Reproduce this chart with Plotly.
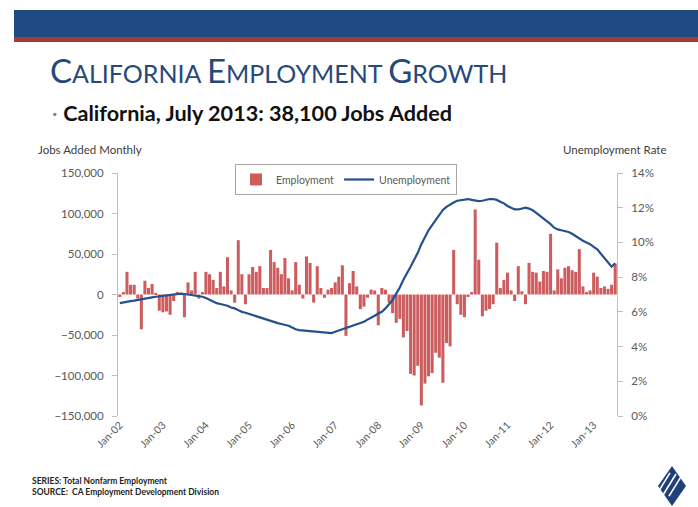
import plotly.graph_objects as go

# ---------------- data ----------------
tick_labels = ["Jan-02", "Jan-03", "Jan-04", "Jan-05", "Jan-06", "Jan-07",
               "Jan-08", "Jan-09", "Jan-10", "Jan-11", "Jan-12", "Jan-13"]

# monthly jobs added, Jan 2002 .. Jul 2013 (thousands)
jobs_k = [
    -3, 3, 28, 12, 12, -5, -43, 17, 8, 13, 2, -20,            # 2002
    -22, -21, -25, -8, 3, 2, -28, 15, 5, 28, -5, 3,          # 2003
    28, 25, 18, 8, 28, 10, 46, 5, -10, 67, 25, -12,          # 2004
    25, 34, 28, 35, 8, 8, 55, 40, 33, 25, 45, 20,            # 2005
    5, 40, 12, -5, 47, 39, -10, 35, 8, -4, 6, 8,             # 2006
    15, 22, 36, -51, 14, 29, 10, -18, -15, -4, 6, 5,         # 2007
    -38, 8, 6, -10, -23, -35, -30, -53, -45, -98, -100, -88, # 2008
    -137, -110, -101, -97, -72, -78, -109, -60, -64, 55, -12, -25,  # 2009
    -28, -3, 3, 105, 43, -27, -20, -18, -12, 64, 8, 18,      # 2010
    27, 5, -8, 35, 4, -12, 39, 28, 27, 16, 29, 28,           # 2011
    75, 5, 31, 20, 33, 35, 30, 28, 56, 10, 3, 5,             # 2012
    27, 22, 8, 10, 7, 12, 38.1,                              # 2013
]

# unemployment rate (%), Jan 2002 .. Jul 2013
unemp = [
    6.5, 6.55, 6.6, 6.62, 6.65, 6.68, 6.7, 6.75, 6.8, 6.83, 6.87, 6.9,
    6.92, 6.95, 6.98, 7.0, 7.03, 7.05, 7.03, 7.0, 6.97, 6.95, 6.9, 6.87,
    6.8, 6.7, 6.6, 6.5, 6.45, 6.4, 6.35, 6.25, 6.2, 6.1, 6.0, 5.95,
    5.88, 5.82, 5.75, 5.68, 5.6, 5.53, 5.48, 5.4, 5.35, 5.3, 5.25, 5.2,
    5.1, 5.0, 4.95, 4.93, 4.9, 4.88, 4.86, 4.85, 4.82, 4.78, 4.76, 4.78,
    4.85, 4.92, 4.98, 5.05, 5.12, 5.2, 5.28, 5.35, 5.43, 5.55, 5.65, 5.78,
    5.9, 6.0, 6.2, 6.45, 6.68, 7.05, 7.4, 7.85, 8.2, 8.6, 9.0, 9.4,
    9.9, 10.3, 10.7, 11.0, 11.3, 11.6, 11.87, 12.05, 12.2, 12.3, 12.4, 12.44,
    12.47, 12.5, 12.45, 12.4, 12.38, 12.4, 12.45, 12.5, 12.5, 12.45, 12.35, 12.25,
    12.1, 12.0, 11.9, 11.9, 11.95, 12.0, 11.95, 11.85, 11.7, 11.55, 11.4, 11.25,
    11.05, 10.85, 10.75, 10.7, 10.65, 10.6, 10.5, 10.35, 10.2, 10.1, 10.0, 9.9,
    9.75, 9.6, 9.35, 9.1, 8.8, 8.6, 8.8,
]

months = list(range(len(jobs_k)))
jobs = [v * 1000 for v in jobs_k]
tick_pos = [12 * i for i in range(len(tick_labels))]

# ---------------- layout helpers ----------------
W, H = 698, 507
L, R, T, B = 118, 617, 173, 416


def px(x):
    return (x - L) / (R - L)


def py(y):
    return (B - y) / (B - T)


FONT = "Lato"
GRAY = "#595959"

fig = go.Figure()
fig.add_trace(go.Bar(x=months, y=jobs, name="Employment",
                     marker=dict(color="#CC5C5E", line=dict(width=0)),
                     yaxis="y"))
fig.add_trace(go.Scatter(x=months, y=unemp, name="Unemployment", mode="lines",
                         line=dict(color="#24508C", width=2.2), yaxis="y2"))

shapes = [
    # top blue band and red stripe
    dict(type="rect", xref="paper", yref="paper", x0=px(14), x1=px(698),
         y0=py(37), y1=py(10), fillcolor="#1F4A82", line=dict(width=0), layer="above"),
    dict(type="rect", xref="paper", yref="paper", x0=px(14), x1=px(698),
         y0=py(42), y1=py(37), fillcolor="#A23A3C", line=dict(width=0), layer="above"),
]

# simple logo emblem
cx, cy = 672, 486
logo_path = (f"M {px(cx)} {py(cy-20)} L {px(cx+14)} {py(cy)} "
             f"L {px(cx)} {py(cy+20)} L {px(cx-14)} {py(cy)} Z")
shapes.append(dict(type="path", xref="paper", yref="paper", path=logo_path,
                   fillcolor="#21407A", line=dict(width=0), layer="above"))
for k in (-6, 0, 6):
    shapes.append(dict(type="line", xref="paper", yref="paper",
                       x0=px(cx - 9 + k), y0=py(cy + 9 + k * 0.2),
                       x1=px(cx + 4 + k), y1=py(cy - 12 + k * 0.2),
                       line=dict(color="white", width=1.6), layer="above"))

title_html = ('<span style="font-size:33px">C</span>ALIFORNIA '
              '<span style="font-size:33px">E</span>MPLOYMENT '
              '<span style="font-size:33px">G</span>ROWTH')

annotations = [
    dict(text=title_html, x=px(48), y=py(70), xref="paper", yref="paper",
         xanchor="left", yanchor="middle", showarrow=False,
         font=dict(family=FONT, size=25, color="#27497A")),
    dict(text='<span style="color:#7f7f7f">·</span> <b>California, July 2013: 38,100 Jobs Added</b>',
         x=px(50), y=py(113), xref="paper", yref="paper",
         xanchor="left", yanchor="middle", showarrow=False,
         font=dict(family=FONT, size=21.6, color="#111111")),
    dict(text="Jobs Added Monthly", x=px(36), y=py(149), xref="paper", yref="paper",
         xanchor="left", yanchor="middle", showarrow=False,
         font=dict(family=FONT, size=11.5, color="#404040")),
    dict(text="Unemployment Rate", x=px(669), y=py(149), xref="paper", yref="paper",
         xanchor="right", yanchor="middle", showarrow=False,
         font=dict(family=FONT, size=11.5, color="#404040")),
    dict(text="<b>SERIES: Total Nonfarm Employment</b><br><b>SOURCE:  CA Employment Development Division</b>",
         x=px(30), y=py(486), xref="paper", yref="paper", align="left",
         xanchor="left", yanchor="middle", showarrow=False,
         font=dict(family=FONT, size=8.5, color="#222222")),
]

fig.update_layout(
    width=W, height=H,
    margin=dict(l=L, r=W - R, t=T, b=H - B, pad=0),
    paper_bgcolor="white", plot_bgcolor="white",
    bargap=0.15,
    font=dict(family=FONT, size=10, color=GRAY),
    xaxis=dict(range=[-0.5, len(months) - 0.5], tickvals=tick_pos, ticktext=tick_labels,
               tickangle=-45, showgrid=False, zeroline=False, showline=False,
               ticks="", tickfont=dict(size=10.5, color=GRAY)),
    yaxis=dict(range=[-150000, 150000], dtick=50000, tickformat=",",
               showgrid=False, zeroline=False, showline=True, linecolor="#BFBFBF",
               linewidth=1, ticks="outside", ticklen=5, tickcolor="#BFBFBF",
               tickfont=dict(size=11.5, color=GRAY), ticklabelstandoff=6),
    yaxis2=dict(range=[0, 14], dtick=2, ticksuffix="%", overlaying="y", side="right",
                showgrid=False, zeroline=False, showline=True, linecolor="#BFBFBF",
                linewidth=1, ticks="outside", ticklen=5, tickcolor="#BFBFBF",
                tickfont=dict(size=11.5, color=GRAY), ticklabelstandoff=6),
    legend=dict(orientation="h", x=px(235), y=py(164), xanchor="left", yanchor="top",
                bordercolor="#A6A6A6", borderwidth=1, bgcolor="white",
                font=dict(size=10.5, color=GRAY), itemwidth=30, tracegroupgap=0),
    shapes=shapes,
    annotations=annotations,
)

fig.write_html("out.html", config={"displayModeBar": False},
               post_script="document.body.style.margin='0';document.body.style.overflow='hidden';")
